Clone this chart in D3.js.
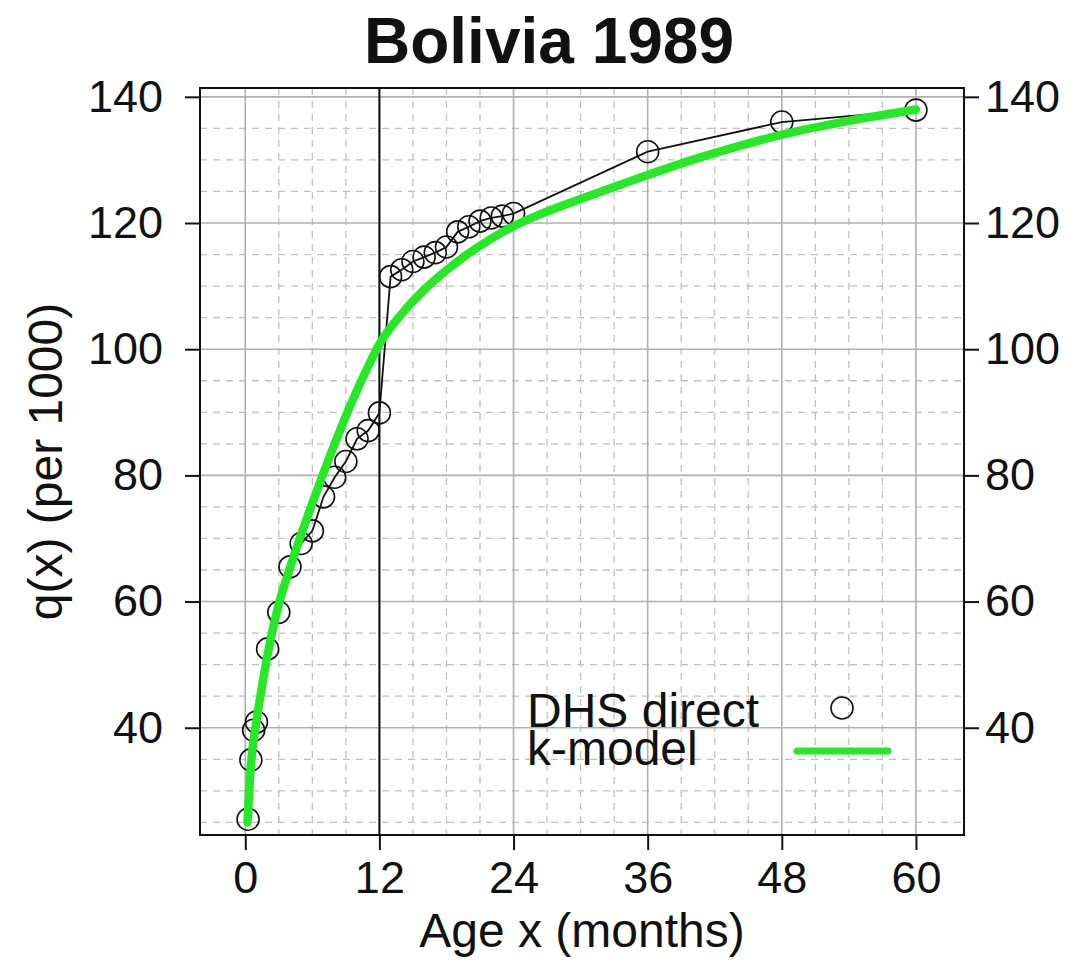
<!DOCTYPE html>
<html>
<head>
<meta charset="utf-8">
<script src="https://cdn.jsdelivr.net/npm/d3@7"></script>
<style>
  html, body { margin: 0; padding: 0; background: #fff; }
  svg { display: block; }
  text { font-family: "Liberation Sans", Arial, Helvetica, sans-serif; fill: #111; }
</style>
</head>
<body>
<svg id="chart" width="1081" height="963"></svg>
<script>
// ---- data ----
const title = "Bolivia 1989";
const xLabel = "Age x (months)";
const yLabel = "q(x) (per 1000)";
const legendLabels = ["DHS direct", "k-model"];

// DHS direct estimates: age (months) and q(x) per 1000
const dhsAge = [0.25, 0.5, 0.75, 1, 2, 3, 4, 5, 6, 7, 8, 9, 10, 11, 12,
                13, 14, 15, 16, 17, 18, 19, 20, 21, 22, 23, 24, 36, 48, 60];
const dhsQ   = [25.5, 34.9, 39.6, 40.9, 52.5, 58.3, 65.5, 69.2, 71.2, 76.6, 79.7, 82.2, 85.8, 87.1, 89.9,
                111.5, 112.6, 113.9, 114.6, 115.3, 116.2, 118.6, 119.4, 120.3, 120.8, 121.1, 121.5, 131.3, 136.0, 137.9];

// k-model fitted curve
const kAge = [0.2, 0.5, 1, 1.5, 2, 3, 4, 5, 6, 7, 8, 9, 10, 11, 12,
              14, 16, 18, 20, 22, 24, 26, 28, 30, 33, 36, 40, 44, 48, 54, 60];
const kQ   = [25.0, 34.0, 41.0, 46.6, 51.6, 59.6, 65.3, 70.6, 75.6, 80.4, 85.0, 89.4, 93.5, 97.3, 100.8,
              105.6, 109.4, 112.5, 115.2, 117.5, 119.5, 121.1, 122.5, 123.8, 125.7, 127.6, 130.0, 132.1, 134.0, 136.2, 138.0];

const xTicks = [0, 12, 24, 36, 48, 60];
const yTicks = [40, 60, 80, 100, 120, 140];
const xMinor = [3, 6, 9, 15, 18, 21, 27, 30, 33, 39, 42, 45, 51, 54, 57];
const yMinor = [25, 30, 35, 45, 50, 55, 65, 70, 75, 85, 90, 95, 105, 110, 115, 125, 130, 135];
const xDomain = [-4.05, 64.3];
const yDomain = [23.0, 141.4];
const markerAge = 12;

// ---- layout ----
const svg = d3.select("#chart");
const L = 200, R = 964, T = 88, B = 835;
const x = d3.scaleLinear().domain(xDomain).range([L, R]);
const y = d3.scaleLinear().domain(yDomain).range([B, T]);
const green = "#26e826";

// grid: minor dashed
const grid = svg.append("g");
grid.selectAll(".xm").data(xMinor).join("line")
  .attr("x1", d => x(d)).attr("x2", d => x(d)).attr("y1", T).attr("y2", B)
  .attr("stroke", "#c0c0c0").attr("stroke-width", 1.3).attr("stroke-dasharray", "7,6");
grid.selectAll(".ym").data(yMinor).join("line")
  .attr("x1", L).attr("x2", R).attr("y1", d => y(d)).attr("y2", d => y(d))
  .attr("stroke", "#c0c0c0").attr("stroke-width", 1.3).attr("stroke-dasharray", "7,6");
// grid: major solid
grid.selectAll(".xM").data(xTicks).join("line")
  .attr("x1", d => x(d)).attr("x2", d => x(d)).attr("y1", T).attr("y2", B)
  .attr("stroke", "#b0b0b0").attr("stroke-width", 1.6);
grid.selectAll(".yM").data(yTicks).join("line")
  .attr("x1", L).attr("x2", R).attr("y1", d => y(d)).attr("y2", d => y(d))
  .attr("stroke", "#b0b0b0").attr("stroke-width", 1.6);

// vertical marker at 12 months
svg.append("line").attr("x1", x(markerAge)).attr("x2", x(markerAge))
  .attr("y1", T).attr("y2", B).attr("stroke", "#111").attr("stroke-width", 2);

// DHS connecting line
const dhs = dhsAge.map((a, i) => [a, dhsQ[i]]);
svg.append("path").datum(dhs)
  .attr("d", d3.line().x(d => x(d[0])).y(d => y(d[1])))
  .attr("fill", "none").attr("stroke", "#111").attr("stroke-width", 1.8);

// DHS circles
svg.append("g").selectAll("circle").data(dhs).join("circle")
  .attr("cx", d => x(d[0])).attr("cy", d => y(d[1])).attr("r", 11)
  .attr("fill", "none").attr("stroke", "#111").attr("stroke-width", 1.6);

// k-model curve
const km = kAge.map((a, i) => [a, kQ[i]]);
svg.append("path").datum(km)
  .attr("d", d3.line().curve(d3.curveMonotoneX).x(d => x(d[0])).y(d => y(d[1])))
  .attr("fill", "none").attr("stroke", green).attr("stroke-width", 8.5)
  .attr("stroke-linecap", "round").attr("stroke-linejoin", "round");

// box
svg.append("rect").attr("x", L).attr("y", T).attr("width", R - L).attr("height", B - T)
  .attr("fill", "none").attr("stroke", "#111").attr("stroke-width", 2);

// axes
const fs = 45;
const axL = svg.append("g").attr("transform", `translate(${L},0)`)
  .call(d3.axisLeft(y).tickValues(yTicks).tickSize(15).tickPadding(22).tickFormat(d3.format("d")));
const axR = svg.append("g").attr("transform", `translate(${R},0)`)
  .call(d3.axisRight(y).tickValues(yTicks).tickSize(15).tickPadding(6).tickFormat(d3.format("d")));
const axB = svg.append("g").attr("transform", `translate(0,${B})`)
  .call(d3.axisBottom(x).tickValues(xTicks).tickSize(15).tickPadding(11).tickFormat(d3.format("d")));
[axL, axR, axB].forEach(g => {
  g.select(".domain").remove();
  g.selectAll(".tick line").attr("stroke", "#111").attr("stroke-width", 2);
  g.selectAll(".tick text").attr("font-size", fs).attr("fill", "#111")
    .attr("font-family", "'Liberation Sans', Arial, sans-serif");
});

// titles
svg.append("text").attr("x", 549).attr("y", 63).attr("text-anchor", "middle")
  .attr("font-size", 64).attr("font-weight", "bold").text(title);
svg.append("text").attr("x", (L + R) / 2).attr("y", 947).attr("text-anchor", "middle")
  .attr("font-size", 48).text(xLabel);
svg.append("text").attr("transform", `translate(62,${(T + B) / 2}) rotate(-90)`)
  .attr("text-anchor", "middle").attr("font-size", 48).text(yLabel);

// legend (one text block, two lines)
const lg = svg.append("text").attr("font-size", 48);
lg.append("tspan").attr("x", 527).attr("y", 727).text(legendLabels[0]);
lg.append("tspan").attr("x", 527).attr("y", 765).text(legendLabels[1]);
svg.append("circle").attr("cx", 842).attr("cy", 708).attr("r", 11)
  .attr("fill", "none").attr("stroke", "#111").attr("stroke-width", 1.6);
svg.append("line").attr("x1", 797).attr("x2", 888).attr("y1", 751).attr("y2", 751)
  .attr("stroke", green).attr("stroke-width", 7).attr("stroke-linecap", "round");
</script>
</body>
</html>
